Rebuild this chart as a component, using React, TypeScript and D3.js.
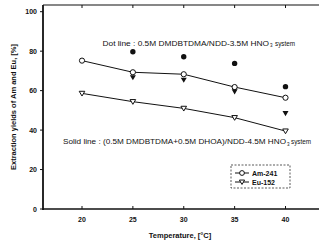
import React from "react";
import * as d3 from "d3";

const temps = [20, 25, 30, 35, 40];
const amSolid = [75.2, 69.3, 68.3, 61.8, 56.4];
const euSolid = [58.6, 54.4, 51.0, 46.3, 39.5];
const dotTemps = [25, 30, 35, 40];
const amDot = [79.7, 77.2, 73.8, 62.0];
const euDot = [66.7, 65.4, 59.5, 48.5];
const yTicks = [0, 20, 40, 60, 80, 100];
const xTicks = [20, 25, 30, 35, 40];

export default function App() {
  const W = 319, H = 240;
  const x = d3.scaleLinear().domain([20, 40]).range([82, 285.5]);
  const y = d3.scaleLinear().domain([0, 100]).range([209, 11.7]);
  const left = 43, top = 5, bottom = 209, right = 319;
  const line = d3.line<number>().x((_, i) => x(temps[i])).y((d) => y(d));
  const tri = (cx: number, cy: number, s: number) =>
    `M${cx - s},${cy - s * 0.75}L${cx + s},${cy - s * 0.75}L${cx},${cy + s * 0.95}Z`;
  const font = "'Liberation Sans', Arial, sans-serif";
  const col = "#111";
  const ann = (x0: number, xs: number, xe: number, yb: number, main: string) => (
    <g fill={col} fontSize={6.8}>
      <text x={x0} y={yb} textLength={xs - x0 - 1} lengthAdjust="spacingAndGlyphs">{main}</text>
      <text x={xs} y={yb + 1.5} fontSize={4.5}>3</text>
      <text x={xe - 20} y={yb} textLength={20} lengthAdjust="spacingAndGlyphs">system</text>
    </g>
  );
  return (
    <svg width={W} height={H} style={{ position: "absolute", left: 0, top: 0, background: "#fff" }} fontFamily={font}>
      {/* frame */}
      <line x1={left} y1={top} x2={right} y2={top} stroke={col} strokeWidth={1.2} />
      <line x1={left} y1={top} x2={left} y2={bottom + 1} stroke={col} strokeWidth={1.8} />
      <line x1={left} y1={bottom} x2={right} y2={bottom} stroke={col} strokeWidth={1.6} />
      {yTicks.map((t) => (
        <g key={"y" + t}>
          <line x1={left - 3} x2={left} y1={y(t)} y2={y(t)} stroke={col} strokeWidth={1} />
          <text x={37} y={y(t) + 2.5} fontSize={7} textAnchor="end" fontWeight="bold" fill={col}>{t}</text>
        </g>
      ))}
      {xTicks.map((t) => (
        <g key={"x" + t}>
          <line x1={x(t)} x2={x(t)} y1={bottom} y2={bottom - 3} stroke={col} strokeWidth={1} />
          <line x1={x(t)} x2={x(t)} y1={top} y2={top + 3} stroke={col} strokeWidth={1} />
          <text x={x(t)} y={221.5} fontSize={7} textAnchor="middle" fontWeight="bold" fill={col}>{t}</text>
        </g>
      ))}
      <text x={180} y={238} fontSize={7.5} textAnchor="middle" fontWeight="bold" fill={col}>Temperature, [°C]</text>
      <text transform="translate(15.5,107) rotate(-90)" fontSize={7.5} textAnchor="middle" fontWeight="bold" fill={col}>
        Extraction yields of Am and Eu, [%]
      </text>
      {/* annotations */}
      {ann(102.5, 270, 295, 45.5, "Dot line : 0.5M DMDBTDMA/NDD-3.5M HNO")}
      {ann(63, 287, 311, 144, "Solid line : (0.5M DMDBTDMA+0.5M DHOA)/NDD-4.5M HNO")}
      {/* solid lines */}
      <path d={line(amSolid) || ""} fill="none" stroke={col} strokeWidth={1} />
      <path d={line(euSolid) || ""} fill="none" stroke={col} strokeWidth={1} />
      {amSolid.map((v, i) => (
        <circle key={"a" + i} cx={x(temps[i])} cy={y(v)} r={2.6} fill="#fff" stroke={col} strokeWidth={1} />
      ))}
      {euSolid.map((v, i) => (
        <path key={"e" + i} d={tri(x(temps[i]), y(v), 2.8)} fill="#fff" stroke={col} strokeWidth={1} />
      ))}
      {amDot.map((v, i) => (
        <circle key={"ad" + i} cx={x(dotTemps[i])} cy={y(v)} r={2.7} fill={col} />
      ))}
      {euDot.map((v, i) => (
        <path key={"ed" + i} d={tri(x(dotTemps[i]), y(v), 3)} fill={col} />
      ))}
      {/* legend */}
      <rect x={231} y={165} width={59} height={23} fill="#fff" stroke={col} strokeWidth={0.7} strokeDasharray="2,1.5" />
      <line x1={235} x2={249} y1={173} y2={173} stroke={col} strokeWidth={1} />
      <circle cx={242} cy={173} r={2.4} fill="#fff" stroke={col} strokeWidth={1} />
      <text x={252} y={175.5} fontSize={7} fontWeight="bold" fill={col}>Am-241</text>
      <line x1={235} x2={249} y1={182} y2={182} stroke={col} strokeWidth={1} />
      <path d={tri(242, 182, 2.6)} fill="#fff" stroke={col} strokeWidth={1} />
      <text x={252} y={184.5} fontSize={7} fontWeight="bold" fill={col}>Eu-152</text>
    </svg>
  );
}
